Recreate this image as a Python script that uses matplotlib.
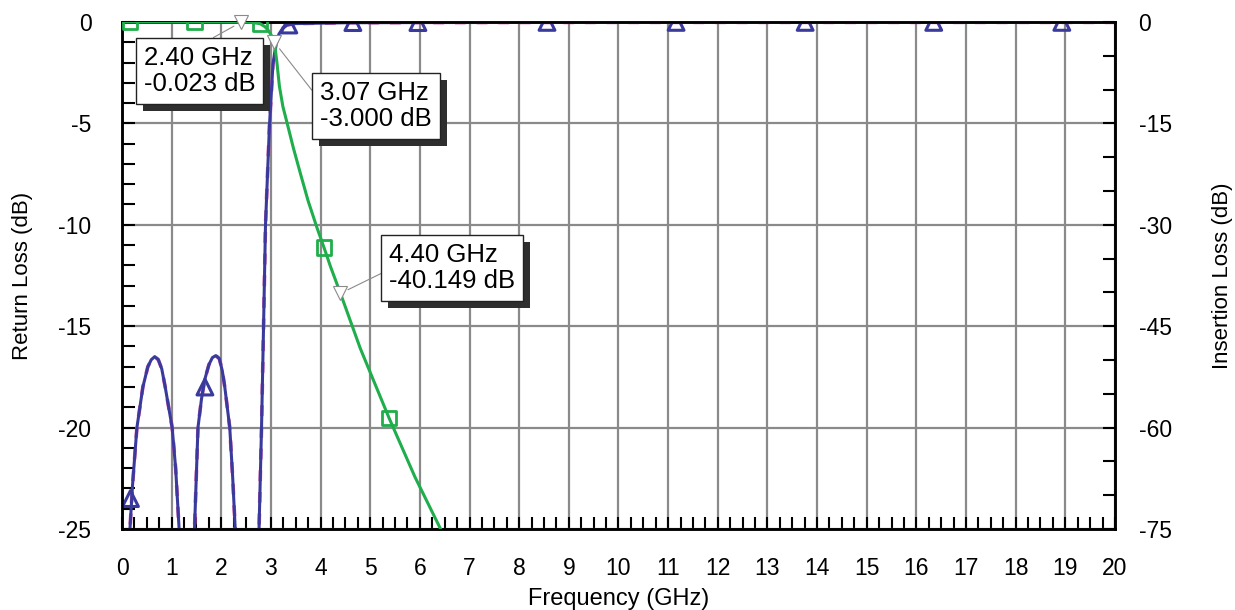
import matplotlib
matplotlib.use("Agg")
import matplotlib.pyplot as plt
import matplotlib.patheffects as pe
from matplotlib.ticker import MultipleLocator

plt.rcParams['font.family'] = ['Liberation Sans', 'DejaVu Sans']
plt.rcParams['axes.unicode_minus'] = False

# Return loss (left axis, dB)
rl_freq = [0.05, 0.10, 0.16, 0.21, 0.30, 0.42, 0.52, 0.59, 0.66, 0.73, 0.80, 0.87, 1.01, 1.08, 1.15, 1.25, 1.30,
           1.38, 1.46, 1.53, 1.60, 1.67, 1.75, 1.82, 1.89, 1.96, 2.02, 2.07, 2.17, 2.23, 2.28, 2.38, 2.55,
           2.65, 2.76, 2.81, 2.85, 2.89, 2.97, 3.04, 3.10, 3.16, 3.24, 3.32, 3.50, 4.50, 6.00, 10.0, 20.0]
rl_db = [-40, -32, -25, -22.9, -20.0, -18.0, -17.0, -16.65, -16.5, -16.65, -17.1, -18.0, -20.0, -22.0, -25.0, -32, -40,
         -32, -25, -20.0, -18.6, -17.6, -16.9, -16.55, -16.45, -16.6, -17.2, -18.0, -20.0, -22.5, -25.0, -32, -40,
         -32, -25, -20.0, -15.1, -10.0, -5.1, -2.1, -1.1, -0.6, -0.3, -0.15, -0.08, -0.04, -0.03, -0.02, -0.02]
rl_mark_freq = [0.17, 1.67, 3.36, 4.65, 5.96, 8.56, 11.16, 13.76, 16.35, 18.93]
rl_mark_db = [-23.5, -18.0, -0.15, -0.03, -0.03, -0.02, -0.02, -0.02, -0.02, -0.02]

# Insertion loss (right axis, dB)
il_freq = [0.0, 1.0, 2.0, 2.4, 2.6, 2.78, 2.88, 2.95, 3.01, 3.07, 3.12, 3.17, 3.24, 3.32, 3.45,
           3.60, 3.75, 3.93, 4.07, 4.20, 4.40, 4.80, 5.38, 5.90, 6.45, 6.60]
il_db = [0.0, -0.005, -0.012, -0.023, -0.06, -0.25, -0.7, -1.3, -2.0, -3.0, -6.0, -9.5, -12.5, -14.8, -18.6,
         -22.6, -26.5, -30.5, -33.4, -36.2, -40.15, -48.3, -58.6, -67.3, -75.5, -78.0]
il_mark_freq = [0.16, 1.46, 2.78, 4.07, 5.38]
il_mark_db = [0.0, -0.01, -0.25, -33.4, -58.6]

# marker readouts
mk_freq = [2.40, 3.07, 4.40]
mk_db = [-0.023, -3.000, -40.149]

blue = '#3a3a9c'
green = '#1fae4b'
grid_c = '#8a8a8a'

fig = plt.figure(figsize=(12.35, 6.10), dpi=100)
ax = fig.add_axes([0.0988, 0.1328, 0.8040, 0.8312])
ax2 = ax.twinx()

ax.set_xlim(0, 20)
ax.set_ylim(-25, 0)
ax2.set_ylim(-75, 0)

ax.xaxis.set_major_locator(MultipleLocator(1))
ax.xaxis.set_minor_locator(MultipleLocator(0.25))
ax.yaxis.set_major_locator(MultipleLocator(5))
ax.yaxis.set_minor_locator(MultipleLocator(1))
ax2.yaxis.set_major_locator(MultipleLocator(15))
ax2.yaxis.set_minor_locator(MultipleLocator(5))

ax.grid(True, which='major', color=grid_c, lw=1.6, zorder=0)
ax.set_axisbelow(True)

for a in (ax, ax2):
    for s in a.spines.values():
        s.set_linewidth(1.8)
    a.tick_params(which='both', direction='in', width=1.5, labelsize=16.5)
    a.tick_params(which='major', length=9)
    a.tick_params(which='minor', length=9)
ax.tick_params(axis='x', pad=20)
ax.tick_params(axis='y', pad=22)
ax2.tick_params(axis='y', pad=17)

# return loss (with faint magenta second trace underneath)
ax.plot(rl_freq, rl_db, color='#d04fb0', lw=2.6, ls=(0, (3, 3)), zorder=2)
ax.plot(rl_freq, rl_db, color=blue, lw=2.2, zorder=3)
ax.scatter(rl_mark_freq, rl_mark_db, marker='^', s=130, facecolors='none', edgecolors=blue,
           linewidths=2.2, zorder=3)

# insertion loss
ax2.plot(il_freq, il_db, color=green, lw=2.2, zorder=3)
ax2.scatter(il_mark_freq, il_mark_db, marker='s', s=110, facecolors='none', edgecolors=green,
            linewidths=2, zorder=3)
ax2.plot(mk_freq, mk_db, ls='none', marker='v', ms=10, mfc='white', mec='#8a8a8a', mew=0.8,
         clip_on=False, zorder=5)

ax.set_xlabel('Frequency (GHz)', fontsize=17, labelpad=6)
ax.set_ylabel('Return Loss (dB)', fontsize=16, labelpad=18)
ax2.set_ylabel('Insertion Loss (dB)', fontsize=16, labelpad=29)

# readout boxes: text left/centre in (GHz, right-axis dB), leader attach point
box_pos = [(0.44, -7.25), (3.99, -12.4), (5.38, -36.4)]
box_rel = [(0.49, 1.0), (0.0, 0.6), (0.0, 0.47)]
for f, d, (tx, ty), rp in zip(mk_freq, mk_db, box_pos, box_rel):
    t = ax2.annotate('%.2f GHz\n%.3f dB' % (f, d), xy=(f, d), xytext=(tx, ty),
                     fontsize=18.5, ha='left', va='center', linespacing=1.12, zorder=6,
                     bbox=dict(boxstyle='square,pad=0.3', fc='white', ec='#222222', lw=1.0),
                     arrowprops=dict(arrowstyle='-', color='#8a8a8a', lw=0.8,
                                     shrinkA=0, shrinkB=6, relpos=rp))
    t.get_bbox_patch().set_path_effects([
        pe.SimplePatchShadow(offset=(5, -5), shadow_rgbFace='#2e2e2e', alpha=1.0), pe.Normal()])

fig.savefig('out.png', dpi=100)
